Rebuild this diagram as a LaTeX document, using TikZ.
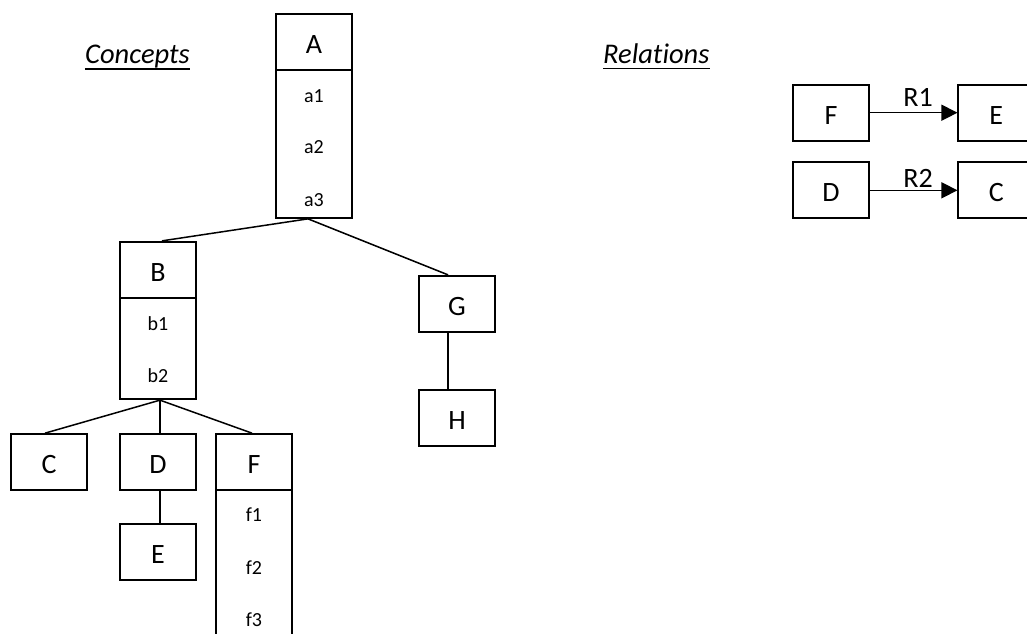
\documentclass[tikz,border=0pt]{standalone}
\usepackage{fontspec}
\setmainfont{Carlito}[Ligatures=NoCommon]
\usetikzlibrary{arrows.meta,calc}

\begin{document}
\begin{tikzpicture}[x=1pt,y=-1pt,
  box/.style={draw=black,line width=1.7pt,minimum width=76pt,minimum height=56pt,
              inner sep=0pt,text height=23pt,text depth=0pt,
              font=\fontsize{28}{31}\selectfont},
  body/.style={draw=black,line width=1.7pt,minimum width=76pt,inner sep=0pt},
  item/.style={inner sep=0pt,anchor=base,font=\fontsize{20}{22}\selectfont},
  link/.style={line width=1.5pt},
  title/.style={inner sep=0pt,font=\fontsize{28.5}{31}\selectfont\itshape},
  rel/.style={line width=1.5pt,-{Triangle[length=16pt,width=16pt]}},
  rlabel/.style={inner sep=0pt,anchor=base,font=\fontsize{28}{31}\selectfont}
]
\useasboundingbox (0,0) rectangle (1027,633);
\clip (0,0) rectangle (1027,633);

% section titles
\node[title,anchor=base east] (concepts) at (190,63) {Concepts};
\draw[line width=1.8pt] ($(concepts.base west)+(0,6.3)$) -- ($(concepts.base east)+(0,6.3)$);
\node[title,anchor=base west] (relations) at (603,63) {Relations};
\draw[line width=1.8pt] ($(relations.base west)+(0,5.5)$) -- ($(relations.base east)+(0,5.5)$);

% concept A with attributes
\node[box] (A) at (314,41.7) {A};
\node[body,minimum height=148.3pt] (Abody) at (314,143.85) {};
\node[item] (a1) at (314,102.7) {a1};
\node[item] (a2) at (314,153.3) {a2};
\node[item] (a3) at (314,206) {a3};

% concept B with attributes
\node[box] (B) at (158,269.7) {B};
\node[body,minimum height=101.6pt] (Bbody) at (158,348.5) {};
\node[item] (b1) at (158,330) {b1};
\node[item] (b2) at (158,382.7) {b2};

% concepts G and H
\node[box] (G) at (457,303.7) {G};
\node[box] (H) at (457,418) {H};

% concepts C, D, E
\node[box] (C) at (49,462) {C};
\node[box] (D) at (158,462) {D};
\node[box] (E) at (158,552.3) {E};

% concept F with attributes
\node[box] (F) at (254,462) {F};
\node[body,minimum height=210pt] (Fbody) at (254,595) {};
\node[item] (f1) at (254,521.7) {f1};
\node[item] (f2) at (254,574.3) {f2};
\node[item] (f3) at (254,626.7) {f3};

% hierarchy links
\draw[link] ([xshift=-6pt]Abody.south) -- ([xshift=4pt]B.north);
\draw[link] ([xshift=-6pt]Abody.south) -- ([xshift=-9pt]G.north);
\draw[link] ([xshift=-9pt]G.south) -- ([xshift=-9pt]H.north);
\draw[link] ([xshift=2pt]Bbody.south) -- ([xshift=-4pt]C.north);
\draw[link] ([xshift=2pt]Bbody.south) -- ([xshift=2pt]D.north);
\draw[link] ([xshift=2pt]Bbody.south) -- ([xshift=-2pt]F.north);
\draw[link] ([xshift=2pt]D.south) -- ([xshift=2pt]E.north);

% relations
\node[box] (rF) at (831,112.7) {F};
\node[box] (rE) at (996.3,112.7) {E};
\node[box] (rD) at (831,190.3) {D};
\node[box] (rC) at (996.3,190.3) {C};
\draw[rel] (rF.east) -- (rE.west);
\draw[rel] (rD.east) -- (rC.west);
\node[rlabel] (R1) at (918,106.7) {R1};
\node[rlabel] (R2) at (918,187.3) {R2};
\end{tikzpicture}
\end{document}
